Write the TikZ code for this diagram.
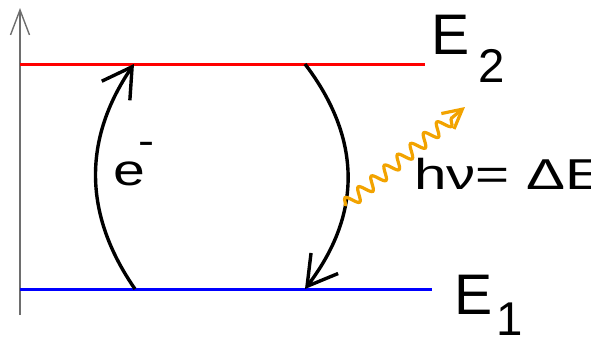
\documentclass[tikz,border=0pt]{standalone}
\usepackage{fontspec}
\setmainfont{Liberation Sans}
\usetikzlibrary{arrows.meta,decorations.pathmorphing}
\definecolor{photonorange}{RGB}{242,163,0}
\definecolor{axisgray}{RGB}{110,110,110}
\tikzset{
  level/.style={line width=1.5pt},
  jump/.style={line width=1.7pt,-{Straight Barb[length=14.5pt,width=17pt]}},
  photon/.style={photonorange,line width=1.6pt,decorate,
    decoration={snake,amplitude=3.2pt,segment length=8.5pt,post length=7pt},
    -{Straight Barb[length=9.5pt,width=10pt]}},
  lbl/.style={inner sep=0pt,anchor=base west},
}
\begin{document}
\begin{tikzpicture}[x=0.5pt,y=-0.5pt]
  \useasboundingbox (0,0) rectangle (591,338);
  % energy axis
  \coordinate (ax0) at (20,315);
  \coordinate (ax1) at (20,8);
  \draw[axisgray,line width=0.7pt,-{Straight Barb[length=12.5pt,width=9.5pt]}] (ax0) -- (ax1);
  % levels
  \coordinate (up0) at (20,64);
  \coordinate (up1) at (425,64);
  \coordinate (lo0) at (20,289);
  \coordinate (lo1) at (432,289);
  \draw[level,red] (up0) -- (up1);
  \draw[level,blue] (lo0) -- (lo1);
  \node[lbl,font=\fontsize{28.6pt}{30pt}\selectfont] (E2) at (431,54) {E};
  \node[lbl,font=\fontsize{23.7pt}{25pt}\selectfont] (E2s) at (478,82) {2};
  \node[lbl,font=\fontsize{28.6pt}{30pt}\selectfont] (E1) at (454,314) {E};
  \node[lbl,font=\fontsize{23.7pt}{25pt}\selectfont] (E1s) at (496,335) {1};
  % transitions
  \coordinate (exc0) at (135,289);
  \coordinate (exc1) at (134,64);
  \coordinate (rel0) at (305,64);
  \coordinate (rel1) at (305,289);
  \draw[jump] (exc0) .. controls (83,214) and (83,139) .. (exc1);
  \draw[jump] (rel0) .. controls (362,139) and (362,214) .. (rel1);
  \node[lbl,font=\fontsize{22pt}{24pt}\selectfont] (el) at (113,185) {\scalebox{1.3}[1]{e}};
  \node[lbl,font=\fontsize{20pt}{22pt}\selectfont] (elm) at (138,154) {\scalebox{1.2}[1]{-}};
  % emitted photon
  \coordinate (ph0) at (345,206);
  \coordinate (ph1) at (465,107);
  \draw[photon] (ph0) -- (ph1);
  \node[lbl,font=\fontsize{21.6pt}{23pt}\selectfont] (hv) at (414,189) {\scalebox{1.35}[1]{hν= ΔE}};
\end{tikzpicture}
\end{document}
